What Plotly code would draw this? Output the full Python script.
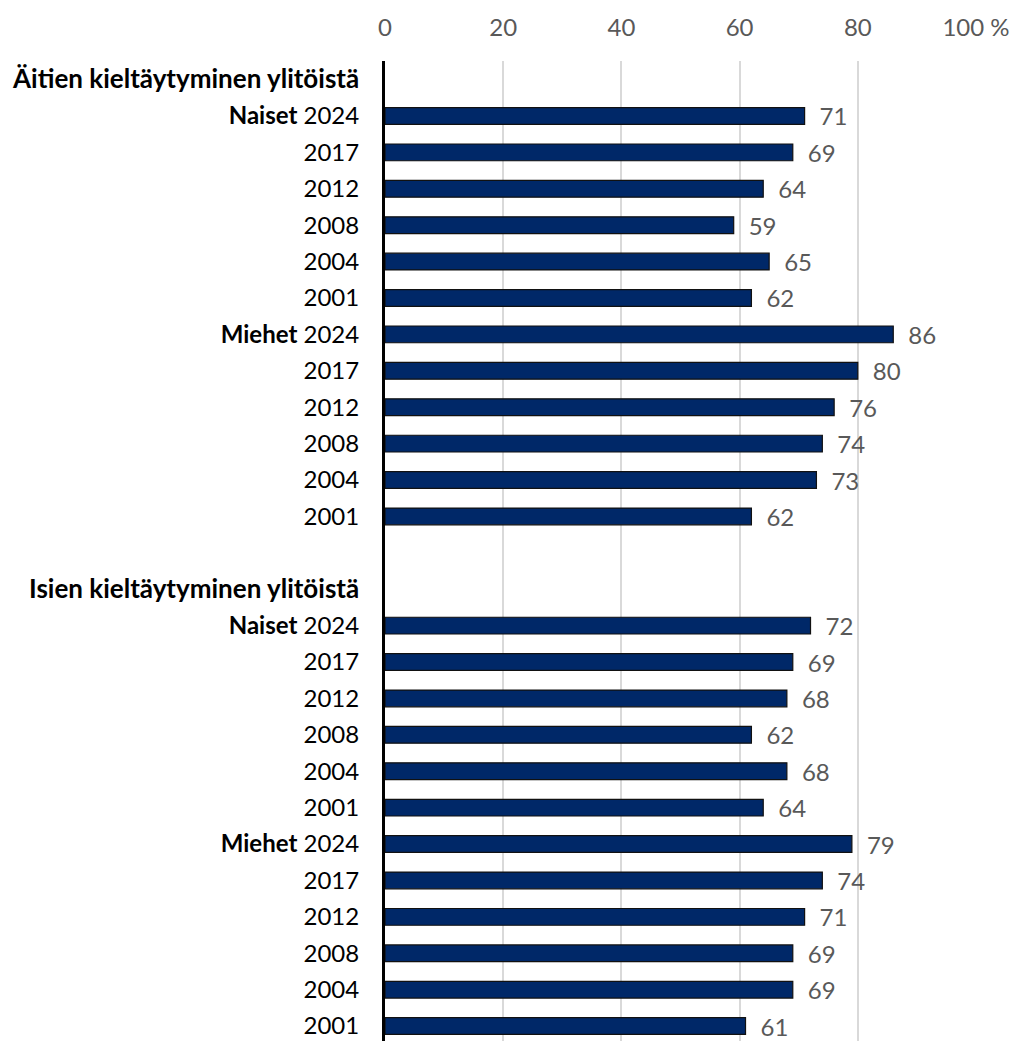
import plotly.graph_objects as go

# data
years = ["2024", "2017", "2012", "2008", "2004", "2001"]
aidit_naiset = [71, 69, 64, 59, 65, 62]
aidit_miehet = [86, 80, 76, 74, 73, 62]
isat_naiset = [72, 69, 68, 62, 68, 64]
isat_miehet = [79, 74, 71, 69, 69, 61]
group_titles = ["Äitien kieltäytyminen ylitöistä", "Isien kieltäytyminen ylitöistä"]
x_ticks = [0, 20, 40, 60, 80, 100]
x_ticktext = ["0", "20", "40", "60", "80", "100 %"]


def group_rows(title, naiset, miehet):
    labels = ['<span style="font-size:26px"><b>' + title + "</b></span>"]
    vals = [None]
    for sex, values in (("Naiset", naiset), ("Miehet", miehet)):
        for i, (yr, v) in enumerate(zip(years, values)):
            labels.append(("<b>" + sex + "</b> " + yr) if i == 0 else yr)
            vals.append(v)
    return labels, vals


l1, v1 = group_rows(group_titles[0], aidit_naiset, aidit_miehet)
l2, v2 = group_rows(group_titles[1], isat_naiset, isat_miehet)
labels = l1 + [""] + l2
values = v1 + [None] + v2
ypos = list(range(len(labels)))

FONT = "Lato"
GRAY = "#595959"
SIZE = 24

fig = go.Figure()
fig.add_trace(go.Bar(
    x=values, y=ypos, orientation="h",
    marker=dict(color="#002868", line=dict(color="#111111", width=1.2)),
    width=0.46,
    text=[("" if v is None else "\u2002" + str(v)) for v in values],
    textposition="outside",
    constraintext="none",
    textfont=dict(family=FONT, size=SIZE, color=GRAY),
    cliponaxis=False,
    hoverinfo="skip",
))

# page body has an 8px margin, so the figure is sized to end at the window edge
fig.update_layout(
    width=1022, height=1033,
    margin=dict(l=377, r=54, t=53, b=0, autoexpand=False),
    paper_bgcolor="white", plot_bgcolor="white",
    showlegend=False,
    font=dict(family=FONT, size=SIZE, color="black"),
    xaxis=dict(
        side="top", range=[0, 100], tickvals=x_ticks, ticktext=x_ticktext,
        showgrid=True, gridcolor="#d9d9d9", gridwidth=1.5,
        zeroline=False, showline=False, ticks="", automargin=False,
        tickfont=dict(family=FONT, size=SIZE, color=GRAY),
        ticklabelstandoff=19,
    ),
    yaxis=dict(
        range=[26.41, -0.51], tickvals=ypos, ticktext=labels,
        showgrid=False, zeroline=False, automargin=False,
        showline=True, linecolor="black", linewidth=3,
        ticks="", ticklabelstandoff=18,
        tickfont=dict(family=FONT, size=SIZE, color="black"),
    ),
)

fig.write_html("out.html")
